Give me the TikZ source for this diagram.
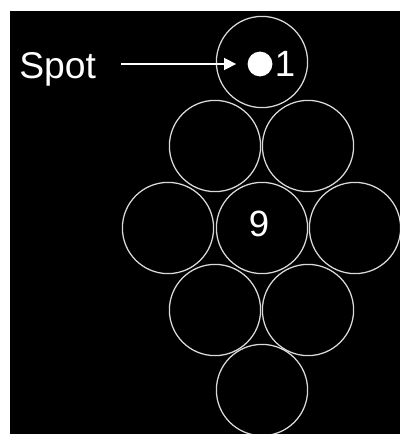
\documentclass[tikz,border=0pt]{standalone}
\usepackage{fontspec}
\setmainfont{Liberation Sans}
\usetikzlibrary{arrows.meta,positioning}
\definecolor{ringgrey}{rgb}{0.85, 0.85, 0.85}
\tikzset{
  ball/.style={
    circle,
    draw=ringgrey,
    line width=0.9pt,
    minimum size=2.28cm,
    inner sep=0pt,
    text=white,
    font=\fontsize{26}{30}\selectfont
  },
  spotdot/.style={
    circle,
    fill=white,
    minimum size=0.62cm,
    inner sep=0pt
  },
  label/.style={
    text=white,
    inner sep=0pt,
    font=\fontsize{26.5}{30}\selectfont
  },
  arrow/.style={
    -{Triangle[length=3mm,width=3mm]},
    line width=1pt,
    white
  }
}

\begin{document}
\begin{tikzpicture}[x=0.025cm,y=-0.025cm]
\useasboundingbox (0,0) rectangle (400,434);
\fill[black] (10,11) rectangle (400,434);
% rack of balls
\node[ball] (b1) at (262,62) {};
\node[ball] (b2) at (215,146) {};
\node[ball] (b3) at (308,146) {};
\node[ball] (b4) at (168,228) {};
\node[ball] (b9) at (262,228) {};
\node[ball] (b5) at (355,228) {};
\node[ball] (b6) at (215,310) {};
\node[ball] (b7) at (308,310) {};
\node[ball] (b8) at (262,390) {};
\node[label, font=\fontsize{26}{30}\selectfont] (nine) at (259,224) {9};
% spot mark
\node[spotdot] (dot) at (260,64) {};
\node[label, font=\fontsize{26}{30}\selectfont, right=0.5mm of dot] (one) {1};
\node[label, anchor=base west] (spot) at (19,78) {Spot};
\draw[arrow, shorten <=0.62cm, shorten >=0.28cm] (spot.east |- dot.west) -- (dot.west);
\end{tikzpicture}
\end{document}
